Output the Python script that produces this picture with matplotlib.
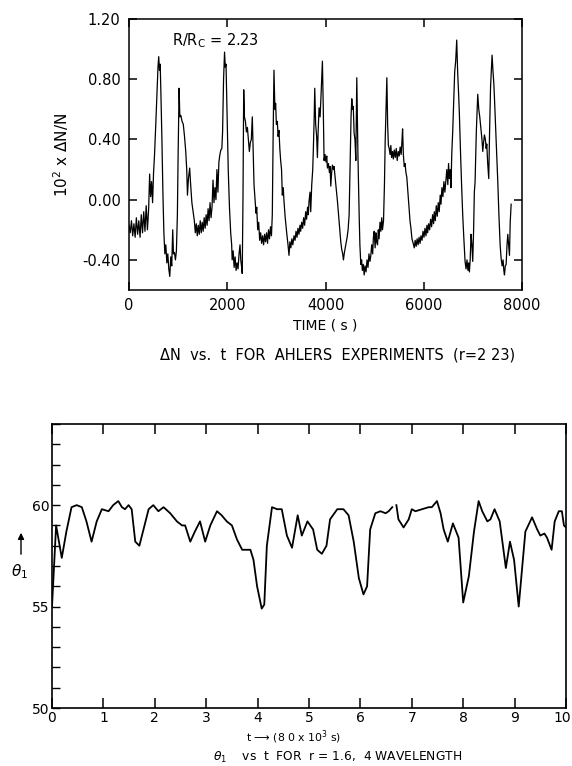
import numpy as np
import matplotlib
matplotlib.use("Agg")
import matplotlib.pyplot as plt
from matplotlib.transforms import ScaledTranslation

plt.rcParams["font.family"] = ["DejaVu Sans"]
plt.rcParams["axes.unicode_minus"] = False

# --- upper panel: 10^2 x dN/N vs time (s), Ahlers experiments ---
time_s = [
    0, 25, 50, 75, 100, 125, 150, 175, 200, 225, 250, 275, 300, 325, 350, 375, 400,
    420, 440, 460, 480, 500, 520, 545, 570, 590, 605, 620, 635, 650, 670, 690, 710, 730, 750,
    770, 790, 810, 830, 850, 870, 890, 905, 925, 945, 965, 985, 1000, 1020, 1035, 1055, 1080,
    1105, 1130, 1155, 1175, 1190, 1210, 1235, 1255, 1280, 1305, 1330, 1350, 1370, 1390, 1410,
    1430, 1450, 1470, 1490, 1510, 1530, 1550, 1570, 1590, 1610, 1630, 1650, 1670, 1690, 1710,
    1730, 1750, 1770, 1790, 1810, 1830, 1850, 1870, 1890, 1905, 1925, 1945, 1960, 1975, 1995,
    2020, 2045, 2070, 2090, 2100, 2120, 2140, 2160, 2180, 2200, 2220, 2240, 2260, 2275, 2290,
    2305, 2320, 2335, 2350, 2370, 2390, 2410, 2430, 2450, 2470, 2490, 2510, 2525, 2545, 2565,
    2585, 2600, 2620, 2640, 2660, 2680, 2700, 2720, 2740, 2760, 2780, 2800, 2820, 2840, 2860,
    2880, 2900, 2917, 2935, 2951, 2970, 2985, 3000, 3019, 3035, 3053, 3070, 3087, 3105, 3121,
    3140, 3155, 3180, 3210, 3237, 3257, 3275, 3295, 3315, 3335, 3359, 3380, 3400, 3420, 3440,
    3460, 3480, 3495, 3515, 3535, 3555, 3575, 3597, 3615, 3635, 3650, 3665, 3685, 3699, 3720,
    3740, 3753, 3770, 3781, 3800, 3820, 3835, 3850, 3869, 3890, 3910, 3937, 3955, 3971, 3990,
    4010, 4025, 4039, 4060, 4080, 4095, 4107, 4125, 4141, 4160, 4175, 4189, 4210, 4225, 4243,
    4270, 4290, 4311, 4330, 4350, 4365, 4385, 4413, 4440, 4460, 4481, 4500, 4520, 4535, 4550,
    4565, 4583, 4600, 4617, 4625, 4637, 4660, 4685, 4700, 4719, 4735, 4750, 4770, 4787, 4805,
    4825, 4845, 4865, 4885, 4905, 4923, 4940, 4960, 4975, 4991, 5010, 5025, 5040, 5059, 5075,
    5090, 5110, 5127, 5145, 5160, 5181, 5200, 5215, 5232, 5249, 5265, 5280, 5297, 5315, 5330,
    5345, 5365, 5380, 5400, 5420, 5440, 5460, 5480, 5500, 5520, 5540, 5555, 5569, 5585, 5603,
    5620, 5637, 5655, 5671, 5700, 5720, 5739, 5760, 5785, 5807, 5825, 5845, 5865, 5885, 5905,
    5925, 5943, 5965, 5985, 6005, 6025, 6045, 6065, 6079, 6100, 6120, 6140, 6160, 6180, 6200,
    6215, 6235, 6255, 6275, 6295, 6315, 6335, 6351, 6370, 6390, 6410, 6430, 6453, 6470, 6490,
    6505, 6521, 6540, 6555, 6570, 6589, 6610, 6630, 6650, 6671, 6690, 6710, 6725, 6745, 6770,
    6793, 6815, 6841, 6861, 6880, 6900, 6915, 6929, 6945, 6963, 6980, 6997, 7015, 7030, 7045,
    7070, 7099, 7120, 7140, 7167, 7185, 7201, 7218, 7235, 7255, 7270, 7283, 7300, 7323, 7340,
    7360, 7375, 7391, 7410, 7425, 7439, 7460, 7485, 7507, 7530, 7555, 7575, 7595, 7615, 7630,
    7643, 7660, 7677, 7695, 7711, 7728, 7745, 7760, 7779,
]
dn_over_n = [
    -0.17, -0.22, -0.14, -0.24, -0.16, -0.25, -0.12, -0.23, -0.14, -0.25, -0.10, -0.22, -0.08, -0.21, -0.04, -0.20, -0.06,
    0.17, 0.02, 0.12, -0.02, 0.18, 0.30, 0.50, 0.72, 0.88, 0.95, 0.86, 0.90, 0.70, 0.40, 0.05, -0.22, -0.36, -0.30,
    -0.42, -0.36, -0.46, -0.51, -0.38, -0.44, -0.20, -0.36, -0.35, -0.40, -0.34, -0.10, 0.30, 0.74, 0.55, 0.56, 0.52,
    0.50, 0.42, 0.32, 0.20, 0.03, 0.14, 0.21, 0.10, -0.02, -0.08, -0.14, -0.22, -0.16, -0.24, -0.17,
    -0.23, -0.14, -0.22, -0.15, -0.21, -0.12, -0.19, -0.10, -0.17, -0.06, -0.14, -0.02, -0.12, -0.05, 0.13,
    -0.02, 0.08, 0.00, 0.20, 0.05, 0.25, 0.30, 0.33, 0.34, 0.45, 0.80, 0.98, 0.88, 0.90, 0.60,
    0.20, -0.05, -0.22, -0.30, -0.40, -0.34, -0.45, -0.38, -0.47, -0.42, -0.46, -0.36, -0.30, -0.40, -0.44,
    -0.49, 0.00, 0.73, 0.55, 0.52, 0.45, 0.48, 0.40, 0.32, 0.38, 0.40, 0.55, 0.35, 0.10, 0.00,
    -0.09, -0.05, -0.20, -0.15, -0.27, -0.22, -0.29, -0.24, -0.30, -0.23, -0.28, -0.22, -0.29, -0.20, -0.26,
    -0.18, -0.24, -0.10, 0.45, 0.86, 0.60, 0.64, 0.50, 0.52, 0.42, 0.46, 0.34, 0.26, 0.20, 0.03,
    0.08, -0.01, -0.12, -0.22, -0.30, -0.37, -0.28, -0.32, -0.26, -0.30, -0.24, -0.27, -0.21, -0.25, -0.19,
    -0.23, -0.17, -0.21, -0.15, -0.19, -0.12, -0.17, -0.08, -0.13, -0.05, -0.10, -0.01, 0.05, -0.08, 0.10,
    0.20, 0.34, 0.55, 0.74, 0.50, 0.42, 0.28, 0.45, 0.61, 0.55, 0.70, 0.92, 0.60, 0.26, 0.30,
    0.25, 0.29, 0.21, 0.24, 0.18, 0.22, 0.09, 0.18, 0.23, 0.20, 0.22, 0.17, 0.10, 0.05, -0.01,
    -0.12, -0.20, -0.28, -0.33, -0.36, -0.40, -0.35, -0.30, -0.25, -0.20, -0.10, 0.20, 0.55, 0.67, 0.60,
    0.62, 0.44, 0.40, 0.26, 0.50, 0.81, 0.30, -0.10, -0.30, -0.43, -0.40, -0.47, -0.43, -0.50, -0.44,
    -0.48, -0.40, -0.45, -0.36, -0.41, -0.37, -0.30, -0.36, -0.25, -0.21, -0.32, -0.22, -0.28, -0.30, -0.20,
    -0.26, -0.15, -0.21, -0.12, -0.20, -0.14, 0.10, 0.39, 0.60, 0.81, 0.50, 0.36, 0.34, 0.30, 0.36,
    0.28, 0.32, 0.27, 0.33, 0.28, 0.34, 0.26, 0.32, 0.29, 0.35, 0.30, 0.38, 0.47, 0.30, 0.22,
    0.24, 0.18, 0.15, 0.08, -0.05, -0.14, -0.19, -0.26, -0.29, -0.32, -0.27, -0.31, -0.26, -0.30, -0.25,
    -0.29, -0.24, -0.27, -0.21, -0.25, -0.19, -0.24, -0.17, -0.22, -0.16, -0.20, -0.13, -0.18, -0.10, -0.16,
    -0.08, -0.14, -0.04, -0.11, -0.02, -0.08, 0.03, -0.03, 0.08, 0.02, 0.12, 0.05, 0.14, 0.20, 0.10,
    0.24, 0.14, 0.20, 0.08, 0.30, 0.45, 0.65, 0.85, 0.92, 1.06, 0.85, 0.70, 0.57, 0.35, 0.10,
    -0.10, -0.25, -0.41, -0.46, -0.40, -0.47, -0.42, -0.48, -0.40, -0.23, -0.30, -0.41, -0.20, 0.05, 0.12,
    0.45, 0.70, 0.60, 0.55, 0.46, 0.40, 0.32, 0.38, 0.43, 0.40, 0.34, 0.37, 0.25, 0.14, 0.45,
    0.75, 0.85, 0.96, 0.85, 0.78, 0.68, 0.50, 0.30, 0.12, -0.10, -0.30, -0.39, -0.44, -0.40, -0.47,
    -0.50, -0.44, -0.43, -0.30, -0.23, -0.30, -0.37, -0.15, -0.03,
]

# --- lower panel: theta_1 vs t (units of 8.0 x 10^3 s) ---
t_units = [
    0.00, 0.08, 0.19, 0.28, 0.38, 0.48, 0.58, 0.67, 0.77, 0.87, 0.97, 1.10, 1.19, 1.29, 1.36,
    1.42, 1.49, 1.55, 1.62, 1.70, 1.78, 1.88, 1.97, 2.07, 2.17, 2.30, 2.43, 2.53, 2.59, 2.69,
    2.78, 2.88, 2.98, 3.08, 3.21, 3.30, 3.40, 3.50, 3.60, 3.70, 3.86, 3.92, 3.99, 4.08, 4.13,
    4.18, 4.28, 4.38, 4.47, 4.57, 4.67, 4.78, 4.86, 4.97, 5.08, 5.16, 5.25, 5.34, 5.41, 5.55,
    5.67, 5.77, 5.87, 5.97, 6.06, 6.13, 6.19, 6.29, 6.39, 6.49, 6.55, 6.62, 6.66,
    6.70, 6.74, 6.84, 6.94, 7.00, 7.07, 7.20, 7.33, 7.39, 7.49, 7.56, 7.62, 7.70, 7.80, 7.91,
    8.00, 8.11, 8.21, 8.30, 8.37, 8.47, 8.53, 8.61, 8.71, 8.83, 8.91, 8.99, 9.08, 9.15, 9.21,
    9.34, 9.44, 9.50, 9.58, 9.63, 9.72, 9.78, 9.86, 9.92, 9.96, 10.00,
]
theta_1 = [
    55.0, 59.0, 57.4, 58.7, 59.9, 60.0, 59.9, 59.2, 58.2, 59.2, 59.8, 59.7, 60.0, 60.2, 59.9,
    59.8, 60.0, 59.8, 58.2, 58.0, 58.8, 59.8, 60.0, 59.7, 59.9, 59.6, 59.2, 59.0, 59.0, 58.2,
    58.7, 59.2, 58.2, 59.0, 59.7, 59.5, 59.2, 59.0, 58.3, 57.8, 57.8, 57.3, 56.0, 54.9, 55.1,
    58.0, 59.9, 59.8, 59.8, 58.5, 57.9, 59.5, 58.5, 59.2, 58.8, 57.8, 57.6, 58.0, 59.3, 59.8,
    59.8, 59.5, 58.2, 56.4, 55.6, 56.0, 58.8, 59.6, 59.7, 59.6, 59.7, 59.9, np.nan,
    60.0, 59.3, 58.9, 59.3, 59.8, 59.7, 59.8, 59.9, 59.9, 60.2, 59.6, 58.8, 58.2, 59.1, 58.4,
    55.2, 56.5, 58.7, 60.2, 59.7, 59.2, 59.3, 59.8, 59.2, 56.9, 58.2, 57.3, 55.0, 57.0, 58.7,
    59.4, 58.8, 58.5, 58.6, 58.4, 57.8, 59.2, 59.7, 59.7, 59.0, 58.9,
]

fig = plt.figure(figsize=(5.72, 7.66), dpi=100)

# upper panel
ax1 = fig.add_axes([129 / 572, 1 - 290 / 766, 393 / 572, 271 / 766])
ax1.plot(time_s, dn_over_n, color="black", lw=0.9)
ax1.set_xlim(0, 8000)
ax1.set_ylim(-0.6, 1.2)
ax1.set_xticks([0, 2000, 4000, 6000, 8000])
ax1.set_yticks([-0.4, 0.0, 0.4, 0.8, 1.2])
ax1.set_yticklabels(["-0.40", "0.00", "0.40", "0.80", "1.20"])
ax1.tick_params(direction="in", length=6, width=1.1, labelsize=10.5,
                top=True, right=True, pad=6)
for s in ax1.spines.values():
    s.set_linewidth(1.1)
ax1.set_xlabel("TIME ( s )", fontsize=10, labelpad=4)
ax1.set_ylabel(r"$\mathregular{10^2}$ x $\Delta$N/N", fontsize=11, labelpad=8)
ax1.text(0.11, 0.92, r"R/R$_\mathregular{C}$ = 2.23", transform=ax1.transAxes,
         fontsize=10.5, va="center", ha="left")
fig.text(338 / 572, 1 - 355 / 766, "\u0394N  vs.  t  FOR  AHLERS  EXPERIMENTS  (r=2 23)",
         ha="center", va="center", fontsize=10.5)

# lower panel
ax2 = fig.add_axes([52 / 572, 1 - 708 / 766, 514 / 572, 284 / 766])
ax2.plot(t_units, theta_1, color="black", lw=1.3)
ax2.set_xlim(0, 10)
ax2.set_ylim(50, 64)
ax2.set_xticks(range(0, 11))
ax2.set_yticks([50, 55, 60])
ax2.set_yticks(range(50, 65), minor=True)
ax2.tick_params(axis="x", direction="in", length=7, width=1.1, labelsize=10,
                top=True, pad=2)
ax2.tick_params(axis="y", which="both", direction="in", length=6, width=1.0,
                labelsize=10, pad=2)
for s in ax2.spines.values():
    s.set_linewidth(1.2)
# keep the "10" label inside the figure
last = ax2.get_xticklabels()[-1]
last.set_transform(last.get_transform() + ScaledTranslation(-4 / 100, 0, fig.dpi_scale_trans))

fig.text(294 / 572, 1 - 737 / 766, "t \u27f6 (8 0 x 10$^\\mathregular{3}$ s)",
         ha="center", va="center", fontsize=7.8)
fig.text(20 / 572, 1 - 572 / 766, r"$\theta_\mathregular{1}$", ha="center",
         va="center", fontsize=11)
fig.add_artist(matplotlib.patches.FancyArrowPatch(
    (21 / 572, 1 - 557 / 766), (21 / 572, 1 - 530 / 766),
    transform=fig.transFigure, arrowstyle="-|>", mutation_scale=9,
    color="black", lw=1.0))
fig.text(338 / 572, 1 - 757 / 766,
         r"$\theta_\mathregular{1}$    vs  t  FOR  r = 1.6,  4 WAVELENGTH",
         ha="center", va="center", fontsize=8.8)

fig.savefig("out.png", dpi=100)
